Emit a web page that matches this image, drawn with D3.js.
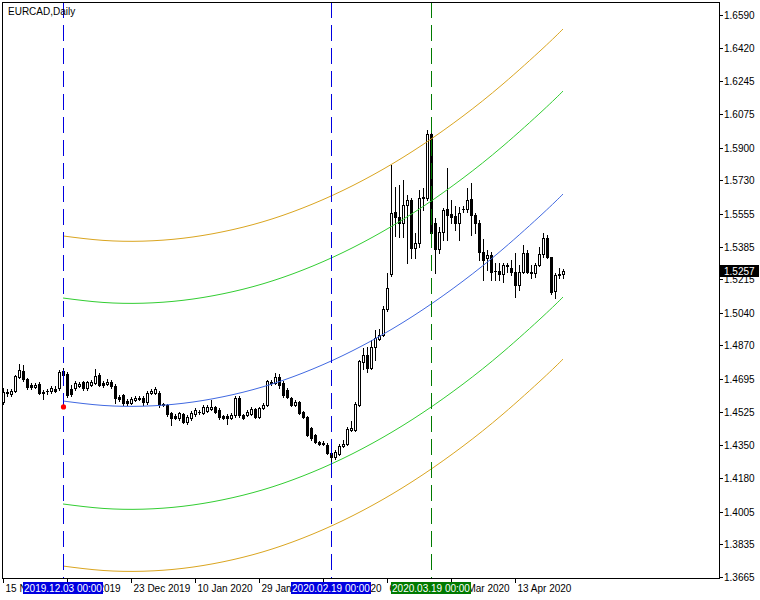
<!DOCTYPE html>
<html>
<head>
<meta charset="utf-8">
<script src="https://cdn.jsdelivr.net/npm/d3@7"></script>
<style>
  html, body { margin: 0; padding: 0; background: #ffffff; }
  svg { display: block; }
  text { font-family: "Liberation Sans", Arial, sans-serif; font-size: 10px; }
</style>
</head>
<body>
<svg id="chart" width="760" height="600"></svg>
<script>
// ---------------- DATA ----------------
const symbolTitle = "EURCAD,Daily";

const open = [
1.4576,1.4628,1.4617,1.4633,1.4706,1.4737,1.4695,1.4664,1.4654,1.4669,
1.4628,1.4633,1.4633,1.4643,1.4649,1.4737,1.4721,1.4643,1.4649,1.4659,
1.4680,1.4649,1.4664,1.4675,1.4716,1.4675,1.4669,1.4680,1.4659,1.4602,
1.4612,1.4581,1.4571,1.4586,1.4597,1.4597,1.4576,1.4623,1.4623,1.4623,
1.4565,1.4560,1.4518,1.4503,1.4492,1.4513,1.4472,1.4492,1.4513,1.4524,
1.4518,1.4529,1.4539,1.4550,1.4534,1.4503,1.4503,1.4492,1.4508,1.4597,
1.4508,1.4508,1.4513,1.4539,1.4498,1.4545,1.4560,1.4680,1.4675,1.4706,
1.4675,1.4638,1.4597,1.4560,1.4576,1.4524,1.4498,1.4440,1.4404,1.4368,
1.4362,1.4352,1.4310,1.4289,1.4305,1.4347,1.4357,1.4430,1.4430,1.4560,
1.4784,1.4820,1.4753,1.4862,1.4904,1.4924,1.5060,1.5242,1.5565,1.5539,
1.5507,1.5601,1.5627,1.5377,1.5403,1.5637,1.5637,1.5971,1.5507,1.5372,
1.5461,1.5580,1.5554,1.5544,1.5507,1.5580,1.5580,1.5632,1.5549,1.5507,
1.5356,1.5325,1.5341,1.5258,1.5258,1.5242,1.5284,1.5273,1.5252,1.5185,
1.5252,1.5351,1.5252,1.5247,1.5289,1.5346,1.5429,1.5330,1.5154,1.5237,
1.5242];

const high = [
1.4649,1.4643,1.4643,1.4716,1.4774,1.4768,1.4701,1.4675,1.4675,1.4680,
1.4638,1.4643,1.4659,1.4659,1.4742,1.4753,1.4732,1.4664,1.4685,1.4680,
1.4685,1.4685,1.4690,1.4747,1.4727,1.4685,1.4695,1.4690,1.4669,1.4612,
1.4617,1.4591,1.4602,1.4607,1.4607,1.4607,1.4633,1.4643,1.4654,1.4633,
1.4571,1.4565,1.4524,1.4513,1.4524,1.4518,1.4508,1.4529,1.4545,1.4534,
1.4560,1.4560,1.4586,1.4555,1.4545,1.4508,1.4513,1.4518,1.4607,1.4607,
1.4513,1.4534,1.4550,1.4545,1.4550,1.4571,1.4690,1.4690,1.4727,1.4721,
1.4685,1.4649,1.4602,1.4586,1.4581,1.4529,1.4503,1.4446,1.4409,1.4373,
1.4373,1.4362,1.4316,1.4326,1.4357,1.4378,1.4446,1.4477,1.4576,1.4794,
1.4857,1.4862,1.4898,1.4951,1.4956,1.5075,1.5247,1.5809,1.5695,1.5705,
1.5731,1.5653,1.5637,1.5455,1.5679,1.5690,1.5991,1.5981,1.5533,1.5487,
1.5585,1.5794,1.5627,1.5596,1.5591,1.5596,1.5690,1.5716,1.5559,1.5523,
1.5424,1.5367,1.5356,1.5299,1.5299,1.5299,1.5299,1.5315,1.5351,1.5289,
1.5393,1.5367,1.5289,1.5299,1.5383,1.5455,1.5445,1.5330,1.5247,1.5273,
1.5268];

const low = [
1.4565,1.4607,1.4607,1.4628,1.4701,1.4685,1.4643,1.4643,1.4649,1.4617,
1.4591,1.4617,1.4623,1.4628,1.4638,1.4706,1.4602,1.4607,1.4638,1.4654,
1.4638,1.4638,1.4659,1.4669,1.4659,1.4654,1.4664,1.4649,1.4571,1.4581,
1.4560,1.4560,1.4565,1.4581,1.4586,1.4560,1.4565,1.4617,1.4617,1.4550,
1.4555,1.4503,1.4456,1.4487,1.4482,1.4466,1.4461,1.4482,1.4503,1.4513,
1.4513,1.4524,1.4534,1.4518,1.4487,1.4487,1.4461,1.4487,1.4498,1.4498,
1.4487,1.4503,1.4508,1.4492,1.4492,1.4539,1.4555,1.4664,1.4669,1.4649,
1.4602,1.4597,1.4555,1.4555,1.4513,1.4492,1.4399,1.4378,1.4362,1.4352,
1.4352,1.4305,1.4258,1.4279,1.4300,1.4342,1.4352,1.4425,1.4425,1.4555,
1.4747,1.4732,1.4747,1.4794,1.4898,1.4919,1.5049,1.5232,1.5440,1.5435,
1.5435,1.5299,1.5325,1.5325,1.5383,1.5575,1.5627,1.5419,1.5247,1.5351,
1.5419,1.5419,1.5507,1.5471,1.5419,1.5565,1.5565,1.5445,1.5455,1.5315,
1.5211,1.5263,1.5211,1.5211,1.5211,1.5200,1.5252,1.5237,1.5122,1.5159,
1.5247,1.5247,1.5221,1.5226,1.5284,1.5330,1.5325,1.5138,1.5117,1.5221,
1.5221];

const close = [
1.4628,1.4623,1.4633,1.4711,1.4742,1.4695,1.4654,1.4654,1.4664,1.4623,
1.4623,1.4631,1.4649,1.4633,1.4732,1.4716,1.4612,1.4617,1.4675,1.4669,
1.4649,1.4680,1.4680,1.4711,1.4664,1.4664,1.4680,1.4659,1.4597,1.4591,
1.4571,1.4571,1.4591,1.4597,1.4594,1.4576,1.4623,1.4633,1.4643,1.4560,
1.4560,1.4513,1.4492,1.4492,1.4518,1.4472,1.4498,1.4518,1.4534,1.4523,
1.4550,1.4550,1.4550,1.4524,1.4498,1.4492,1.4492,1.4508,1.4597,1.4508,
1.4492,1.4524,1.4539,1.4498,1.4545,1.4560,1.4685,1.4675,1.4706,1.4664,
1.4612,1.4602,1.4560,1.4576,1.4518,1.4498,1.4404,1.4388,1.4368,1.4357,
1.4357,1.4310,1.4289,1.4316,1.4347,1.4357,1.4435,1.4440,1.4565,1.4789,
1.4820,1.4753,1.4862,1.4909,1.4924,1.5060,1.5169,1.5559,1.5539,1.5507,
1.5601,1.5627,1.5377,1.5403,1.5637,1.5643,1.5971,1.5455,1.5372,1.5461,
1.5575,1.5549,1.5539,1.5507,1.5559,1.5579,1.5627,1.5549,1.5507,1.5356,
1.5315,1.5341,1.5252,1.5256,1.5242,1.5289,1.5289,1.5252,1.5185,1.5252,
1.5351,1.5252,1.5247,1.5289,1.5346,1.5429,1.5330,1.5148,1.5237,1.5242,
1.5257];

// price axis tick labels
const priceTicks = [1.6590,1.6420,1.6245,1.6075,1.5900,1.5730,1.5555,1.5385,1.5215,
                    1.5040,1.4870,1.4695,1.4525,1.4350,1.4180,1.4005,1.3835,1.3665];
const priceMin = 1.3665, priceMax = 1.6590;
const lastPrice = 1.5257;

// time axis labels (bar index of each label)
const timeTickBars   = [0, 16, 32, 48, 64, 80, 96, 112, 128];
const timeTickLabels = ["15 Nov 2019","4 Dec 2019","23 Dec 2019","10 Jan 2020","29 Jan 2020",
                        "18 Feb 2020","6 Mar 2020","25 Mar 2020","13 Apr 2020"];

// vertical line objects
const vlineBars   = [15, 82, 107];
const vlineLabels = ["2019.12.03 00:00","2020.02.19 00:00","2020.03.19 00:00"];
const vlineColors = ["#0000e0","#0000e0","#007a00"];

// regression channel: centre line read at bar indices, band offsets (price)
const channelBars   = [15,25,35,45,55,65,75,85,95,105,115,125,135,140];
const channelCenter = [1.4581,1.4558,1.4554,1.4569,1.4603,1.4655,1.4727,1.4818,1.4928,1.5057,1.5205,1.5372,1.5558,1.5658];
const channelOffsets = [0.0859, 0.0536, 0, -0.0536, -0.0859];
const channelColors  = ["#daa520","#32cd32","#4169e1","#32cd32","#daa520"];

// red marker
const markerBar = 15, markerPrice = 1.4550;

// ---------------- DRAW ----------------
const svg = d3.select("#chart");
const W = 760, H = 600;
const plot = {left: 2, top: 2, right: 719, bottom: 578};

const x = d3.scaleLinear().domain([0, 140]).range([3, 563]);
const y = d3.scaleLinear().domain([priceMin, priceMax]).range([577, 15]);

svg.append("rect").attr("width", W).attr("height", H).attr("fill", "#fff");

const clip = svg.append("defs").append("clipPath").attr("id", "plotclip")
  .append("rect").attr("x", plot.left + 1).attr("y", plot.top + 1)
  .attr("width", plot.right - plot.left - 1).attr("height", plot.bottom - plot.top - 1);

const g = svg.append("g").attr("clip-path", "url(#plotclip)");

// candles
const bars = d3.range(open.length).map(i => ({i, o: open[i], h: high[i], l: low[i], c: close[i]}));
const cg = g.append("g").attr("shape-rendering", "crispEdges");
bars.forEach(b => {
  const X = Math.round(x(b.i));
  const yH = Math.round(y(b.h)), yL = Math.round(y(b.l));
  const yO = Math.round(y(b.o)), yC = Math.round(y(b.c));
  cg.append("line").attr("x1", X + 0.5).attr("x2", X + 0.5)
    .attr("y1", yH).attr("y2", yL + 1).attr("stroke", "#000").attr("stroke-width", 1);
  const top = Math.min(yO, yC), bot = Math.max(yO, yC);
  if (bot - top < 1) {
    cg.append("rect").attr("x", X - 1).attr("y", top).attr("width", 3).attr("height", 1).attr("fill", "#000");
  } else if (b.c > b.o) {
    cg.append("rect").attr("x", X - 0.5).attr("y", top + 0.5).attr("width", 2).attr("height", bot - top)
      .attr("fill", "#fff").attr("stroke", "#000").attr("stroke-width", 1);
  } else {
    cg.append("rect").attr("x", X - 1).attr("y", top).attr("width", 3).attr("height", bot - top + 1).attr("fill", "#000");
  }
});

// channel lines
channelOffsets.forEach((off, k) => {
  const pts = channelBars.map((b, j) => [x(b), y(channelCenter[j] + off)]);
  g.append("path").attr("d", d3.line().curve(d3.curveNatural)(pts))
    .attr("fill", "none").attr("stroke", channelColors[k]).attr("stroke-width", 1);
});

// vertical lines
vlineBars.forEach((b, k) => {
  const X = Math.round(x(b)) + 0.5;
  g.append("line").attr("x1", X).attr("x2", X).attr("y1", plot.top).attr("y2", plot.bottom)
    .attr("stroke", vlineColors[k]).attr("stroke-width", 1).attr("stroke-dasharray", "16,7");
});

// red marker
g.append("circle").attr("cx", x(markerBar) + 0.5).attr("cy", y(markerPrice)).attr("r", 2.6).attr("fill", "#ff0000");

// frame
svg.append("rect").attr("x", plot.left + 0.5).attr("y", plot.top + 0.5)
  .attr("width", plot.right - plot.left).attr("height", plot.bottom - plot.top)
  .attr("fill", "none").attr("stroke", "#000").attr("stroke-width", 1).attr("shape-rendering", "crispEdges");

// title
svg.append("text").attr("x", 8).attr("y", 15).attr("fill", "#000").text(symbolTitle);

// price axis
const ya = svg.append("g").attr("shape-rendering", "crispEdges");
priceTicks.forEach(p => {
  const Y = Math.round(y(p)) + 0.5;
  ya.append("line").attr("x1", plot.right + 1).attr("x2", plot.right + 4).attr("y1", Y).attr("y2", Y).attr("stroke", "#000");
  svg.append("text").attr("x", plot.right + 5).attr("y", Y + 3.5).attr("fill", "#000").text(p.toFixed(4));
});

// current price box
const yl = Math.round(y(lastPrice));
svg.append("rect").attr("x", plot.right + 1).attr("y", yl - 6).attr("width", 39).attr("height", 12).attr("fill", "#000");
svg.append("text").attr("x", plot.right + 5).attr("y", yl + 3.5).attr("fill", "#fff").text(lastPrice.toFixed(4));

// time axis
timeTickBars.forEach((b, k) => {
  const X = Math.round(x(b)) + 0.5;
  svg.append("line").attr("x1", X).attr("x2", X).attr("y1", plot.bottom).attr("y2", plot.bottom + 5)
    .attr("stroke", "#000").attr("shape-rendering", "crispEdges");
  svg.append("text").attr("x", X + 2).attr("y", 592).attr("fill", "#000").text(timeTickLabels[k]);
});

// vertical line labels on time axis
vlineBars.forEach((b, k) => {
  const cx = Math.round(x(b));
  svg.append("rect").attr("x", cx - 40).attr("y", 582).attr("width", 80).attr("height", 12).attr("fill", vlineColors[k]);
  svg.append("text").attr("x", cx).attr("y", 592).attr("text-anchor", "middle").attr("fill", "#fff").text(vlineLabels[k]);
});
</script>
</body>
</html>
